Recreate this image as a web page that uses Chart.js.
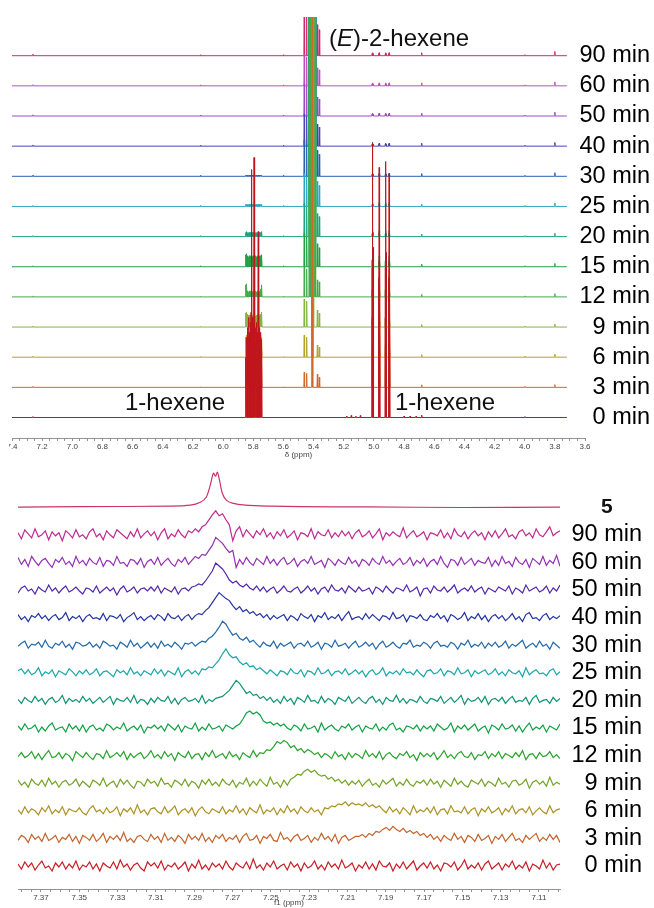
<!DOCTYPE html>
<html><head><meta charset="utf-8">
<script src="https://cdn.jsdelivr.net/npm/chart.js@4.4.1/dist/chart.umd.min.js"></script>
<style>
html,body{margin:0;padding:0;background:#fff;width:654px;height:908px;overflow:hidden;position:relative;font-family:'Liberation Sans',Arial,sans-serif;}
canvas{position:absolute;left:0;}
#top{top:0;}
#bot{top:448px;}
.ann{position:absolute;font-size:24px;line-height:24px;color:#111;white-space:nowrap;}
.mask{position:absolute;left:0;top:440px;width:9px;height:12px;background:#fff;}
</style></head><body>
<canvas id="top" width="654" height="460"></canvas>
<canvas id="bot" width="654" height="460"></canvas>
<div class="mask"></div>
<div class="ann" style="left:329px;top:26px">(<i>E</i>)-2-hexene</div>
<div class="ann" style="left:125px;top:390px">1-hexene</div>
<div class="ann" style="left:395px;top:390px">1-hexene</div>
<div class="ann" style="left:601px;top:495px;font-weight:bold;font-size:21px;line-height:21px">5</div>
<script>
// ---------------- DATA: top panel (1H NMR, 7.4 - 3.6 ppm) ----------------
const TOP_TIMES = ['0 min','3 min','6 min','9 min','12 min','15 min','20 min','25 min','30 min','40 min','50 min','60 min','90 min'];
const TOP_TICK_LABELS = ['7.4','7.2','7.0','6.8','6.6','6.4','6.2','6.0','5.8','5.6','5.4','5.2','5.0','4.8','4.6','4.4','4.2','4.0','3.8','3.6'];
const TOP_START = 7.4, TOP_END = 3.72;
const OFF_SCALE = 1500;
// 1-hexene CH= multiplet (~5.8 ppm)
const HEX1_A_PPM = [5.850,5.844,5.838,5.832,5.826,5.820,5.815,5.811,5.806,5.800,5.795,5.789,5.783,5.777,5.772,5.767,5.761,5.755,5.749,5.744];
const HEX1_A_H = [
 [60,80,90,100,85,95,105,248,100,95,260,100,90,95,85,186,90,85,80,78],
 [30,40,45,50,42,48,52,124,50,48,130,50,45,48,42,93,45,42,40,39],
 [20,22,17,15,16,14,15,17,16,15,18,16,15,14,16,17,15,16,18,20],
 [14,15,13,12,12,11,12,13,12,11,13,12,11,12,12,13,11,12,13,15],
 [12,13,6,5,6,5,6,6,5,6,6,5,6,5,6,6,5,6,8,12],
 [12,13,11,10,11,10,11,11,10,11,11,10,11,10,11,11,10,11,11,12],
 [4,5,4,4,4,4,4,4,4,4,4,4,4,4,4,4,4,4,4,5],
 [2,2,2,2,2,2,2,2,2,2,2,2,2,2,2,2,2,2,2,2],
 [1,1,1,1,1,1,1,1,1,1,1,1,1,1,1,1,1,1,1,1],
 [],[],[],[]
];
// 1-hexene =CH2 lines (~4.9-5.0 ppm)
const HEX1_B_PPM = [5.012,5.009,5.005,4.968,4.965,4.961,4.924,4.921,4.917,4.902,4.899,4.895];
const HEX1_B_H = [
 [150,274,170,140,250,160,150,256,165,140,244,150],
 [70,130,80,65,120,75,70,125,80,65,118,70],
 [12,22,13,11,20,12,12,20,12,11,19,11],
 [9,16,10,8,15,9,9,15,9,8,14,8],
 [7,13,8,7,12,7,7,12,7,7,12,7],
 [7,12,7,6,11,6,6,11,6,6,11,6],
 [3,6,4,3,6,3,3,6,3,3,6,3],
 [2,4,2,2,4,2,2,4,2,2,4,2],
 [2,3,2,2,3,2,2,3,2,2,3,2],
 [2,4,2,2,3,2,2,3,2,2,3,2],
 [2,3,2,2,3,2,2,3,2,2,3,2],
 [2,3,2,2,3,2,2,3,2,2,3,2],
 [2,3,2,2,3,2,2,3,2,2,3,2]
];
// (E)-2-hexene CH=CH: outer lines and off-scale core lines (~5.4 ppm)
const E_SIDE_PPM = [5.462,5.446,5.375,5.362];
const E_SIDE_H = [
 [0,0,0,0],[15,14,13,10],[22,20,12,10],[28,26,17,14],[30,28,17,15],[33,30,23,19],
 [33,30,23,20],[33,30,25,21],[36,32,26,22],[32,30,22,19],[32,30,19,17],[31,29,18,16],[45,42,31,26]
];
const E_CORE_FULL = [5.428,5.4245,5.421,5.4175,5.414,5.4105,5.407,5.4035,5.400,5.3965,5.393,5.389];
const E_CORE_PPM = [
 [],
 [5.410,5.406],
 [5.411,5.408,5.405],
 [5.414,5.410,5.406,5.402],
 E_CORE_FULL,E_CORE_FULL,E_CORE_FULL,E_CORE_FULL,E_CORE_FULL,E_CORE_FULL,E_CORE_FULL,E_CORE_FULL,E_CORE_FULL
];
// small signals
const SMALL_PPM = [7.261,6.150,5.600,4.683,3.998,3.800];
const SMALL_H = [
 [1,0,0,2.5,1,0],[1,0.5,0.5,2.5,1,2.7],[1,0.5,0.5,2.5,1,3],[1,0.5,0.5,2.5,1,3],
 [1,0.5,0.5,2.5,1,3.2],[1,1,1,2.5,1,3.3],[1,1,1,2.5,1,3.4],[1,1,1,2.5,1,3.5],
 [1.2,1,1,2.8,1,3.6],[1.2,1,1,3,1,3.7],[1.2,1,1,3,1,3.8],[1.2,1,1,3,1,3.9],[1.5,1,1,3,1,4.2]
];
const IMP0_PPM = [5.18,5.15,5.12,5.09,4.80,4.76,4.72];
const IMP0_H = [1.5,2,1.5,2,1.5,1.5,1.5];

// ---------------- DATA: bottom panel (7.38 - 7.10 ppm) ----------------
const BOT_TIMES = ['0 min','3 min','6 min','9 min','12 min','15 min','20 min','25 min','30 min','40 min','50 min','60 min','90 min'];
const BOT_TICK_LABELS = ['7.37','7.35','7.33','7.31','7.29','7.27','7.25','7.23','7.21','7.19','7.17','7.15','7.13','7.11'];
const BOT_START = 7.382, BOT_END = 7.099;
const V_0 = [2,-3,4,-1,3,-4,1,5,-2,0,-5,3,-1,4,-3,2,-2,5,-4,1,
 -1,4,-3,2,-5,3,0,-2,4,-3,6,-1,2,-4,1,3,-2,-5,4,0,
 3,-2,5,-4,1,-1,3,-3,0,4,-5,2,-2,6,-3,1,-4,3,-1,2,
 -3,5,-1,-4,3,0,-2,4,-3,7,-2,1,-4,3,-1,5,-3,0,2,-4,
 4,-1,2,-5,3,-2,0,5,-3,1,-4,4,-1,2,-3,6,-2,0,3,-5,
 1,-2,4,-3,2,-4,5,0,-1,3,-5,2,-2,4,-3,1,5,-4,0,3,
 -2,4,-3,1,-5,3,2,-1,4,-4,0,6,-3,1,-2,3,-4,2,5,-3,
 0,3,-4,2,-1,5,-3,1,-2,4,-5,2,0,-3,6,-2,3,-4,1,2];
const V_3 = [-2,3,1,-4,4,-1,2,-3,5,-2,0,3,-4,1,-1,4,-3,2,-5,3,
 1,-2,4,-3,0,5,-4,2,-1,3,-2,6,-3,0,-4,2,3,-1,-3,4,
 -1,2,-4,5,-2,1,-3,3,0,-5,4,-1,2,-2,5,-3,1,-4,3,0,
 4,-3,1,-1,3,-4,2,5,-2,-1,3,-5,2,0,4,-2,-3,6,-1,1,
 -3,2,4,-2,0,3,-4,1,-2,5,-1,2,-3,4,-5,1,3,-2,0,2,
 2,4,1,5,3,7,6,9,11,8,12,9,7,10,6,8,5,7,3,5,
 1,4,-1,2,-3,3,0,-2,5,-1,2,-4,3,1,-3,4,-2,0,3,-5,
 2,-1,4,-3,1,5,-2,0,-4,3,-1,2,5,-3,1,-2,4,-1,3,-4];
const V_6 = [1,-3,4,-2,2,0,-4,3,-1,5,-3,1,-2,4,-4,2,0,-1,3,-2,
 -4,2,5,-1,1,-3,3,-2,0,4,-5,2,-1,3,-3,6,-2,1,-4,2,
 3,-1,-3,4,-2,1,5,-4,0,2,-2,3,-5,1,4,-1,-3,2,0,-2,
 4,-3,1,-1,5,-2,2,-4,3,0,-2,6,-3,1,-1,3,-4,2,-2,5,
 -1,2,-3,4,0,-2,3,-1,1,-4,3,2,5,4,7,6,9,5,8,6,
 7,5,8,4,6,3,5,1,-2,4,-1,2,-3,3,0,-4,5,-2,1,-1,
 3,-2,4,-4,1,2,-3,5,-1,0,-2,4,-3,1,3,-5,2,-1,4,-2,
 0,3,-4,2,-1,5,-3,1,2,-2,4,-4,0,3,-1,-3,5,-2,1,2];
const V_9 = [3,-2,1,-4,4,0,-2,3,-3,5,-1,2,-4,1,3,-2,0,4,-3,2,
 -1,-4,3,1,-2,5,-3,0,2,-4,4,-1,3,-2,-5,2,1,-3,4,0,
 2,-3,5,-1,0,-4,3,1,-2,4,-3,2,0,-5,3,-1,4,-2,1,-3,
 4,0,-2,3,-4,1,-1,5,-3,2,-2,4,0,-3,6,-1,1,-4,3,-2,
 4,6,9,8,12,14,11,13,9,7,8,4,6,2,4,0,3,-2,2,-1,
 3,-3,1,4,-2,0,-4,3,-1,2,5,-3,1,-2,4,-1,-3,2,0,3,
 -2,4,-1,2,-4,3,0,-3,5,-1,2,-2,-4,3,1,-1,4,-3,2,0,
 -3,5,-1,1,-4,2,3,-2,0,4,-5,1,3,-1,2,-3,6,-2,1,-1];
const V_12 = [-1,3,-2,0,4,-3,2,-4,1,5,-2,-1,3,-3,2,0,-5,4,1,-2,
 3,-1,-4,2,1,-3,5,-2,0,3,-1,4,-4,2,-2,1,3,-3,0,5,
 -2,1,-3,4,-1,2,-5,3,0,-2,4,-3,1,2,-4,3,-1,5,-2,0,
 2,-3,4,-1,1,-4,3,0,-2,5,-1,3,2,6,5,9,14,12,15,13,
 8,10,5,7,3,6,4,1,3,-2,2,0,-3,4,-1,1,-4,3,-2,2,
 0,-3,5,-1,2,-2,4,-4,1,3,-1,-3,2,0,4,-2,1,-5,3,-1,
 2,-1,3,-4,0,5,-2,1,-3,2,4,-1,-2,3,-4,1,0,4,-3,2,
 -1,4,-3,2,0,-2,3,-1,5,-4,1,2,-3,3,-1,0,4,-2,1,-3];
const V_15 = [2,-2,4,-1,0,3,-4,1,-3,2,5,-2,0,1,-4,4,-1,2,-3,3,
 -4,1,3,-2,0,-3,4,2,-2,1,-1,5,-3,0,2,-2,3,-5,1,0,
 3,-1,2,-3,4,1,-2,3,-4,2,0,-1,5,-3,1,-2,4,-1,0,2,
 -3,3,1,-1,2,4,9,15,17,14,16,13,7,5,6,3,5,2,4,0,
 -2,3,1,-3,4,-1,0,2,-4,5,-2,1,3,-1,-3,2,0,4,-2,1,
 3,-4,2,0,-1,4,-3,1,-2,3,5,-2,0,-4,2,1,-1,3,-3,2,
 -1,2,-3,4,1,-2,0,5,-4,2,-1,3,-2,1,4,-3,0,2,-5,3,
 1,-2,4,-1,0,3,-3,2,-4,1,5,-2,1,-1,3,-4,2,0,-2,4];
const V_20 = [1,-3,3,0,-2,4,-1,2,-4,1,3,-2,0,5,-3,2,-1,1,-2,4,
 -1,2,-3,0,3,-2,1,4,-4,2,0,-1,3,-2,5,-3,1,0,-4,2,
 -2,3,0,-1,4,-3,2,-4,1,3,-1,0,2,-2,5,-3,1,-1,2,3,
 4,7,10,15,20,17,12,7,9,5,6,2,4,0,3,-2,1,-3,4,-1,
 2,-4,3,1,-2,5,-1,0,-3,4,-2,2,0,-4,3,1,-1,4,-3,0,
 3,-1,-3,2,4,-2,1,-4,3,0,-1,5,-2,2,-3,1,0,-2,4,-1,
 -3,2,1,-1,4,-3,0,3,-2,1,5,-4,2,-1,0,3,-2,4,-4,1,
 2,-1,3,-3,1,4,-2,0,-1,3,-4,2,5,-2,0,1,-3,3,-1,2];
const V_25 = [2,4,-1,3,-2,0,5,-3,1,-1,3,-4,2,0,-2,4,1,-3,2,-1,
 3,-2,0,4,-3,1,2,-1,-4,3,0,2,-2,5,-1,1,-3,2,0,-2,
 4,-1,3,-3,2,0,-2,5,-4,1,3,-1,2,-2,4,3,6,5,9,13,
 19,24,18,15,16,11,8,10,6,7,3,5,2,-1,3,0,-3,2,1,-2,
 4,0,-1,3,-4,2,1,-2,5,-1,0,3,-3,1,2,-1,4,-2,0,3,
 -1,2,-4,1,3,-2,0,5,-3,1,-1,2,-2,4,0,1,-2,3,-1,-4,
 2,3,-1,0,4,-3,2,1,-2,5,-1,0,3,-4,2,-1,1,3,-2,0,
 4,-2,1,-3,3,0,-1,2,-4,5,-2,1,3,-1,0,-3,2,4,-2,1];
const V_30 = [-1,2,4,-3,1,0,3,-2,5,-1,-3,2,0,4,-2,1,-4,3,2,-1,
 0,3,-2,1,-3,4,2,-1,0,-4,3,1,-2,5,-1,2,-3,0,3,-2,
 2,-3,4,-1,1,-2,3,0,-4,2,1,3,-1,2,4,3,7,9,13,18,
 24,21,15,10,12,7,5,8,3,5,1,-2,3,0,-1,4,-3,2,-1,1,
 3,-3,1,2,-1,4,-2,0,3,-4,2,1,-2,5,-1,0,2,-3,1,4,
 -2,0,3,-1,2,-4,1,4,-2,0,3,-1,-3,2,1,5,-2,0,-1,3,
 1,-3,2,4,-1,0,-2,3,1,-4,2,0,5,-2,1,-1,3,-3,2,-1,
 3,-2,0,4,-3,1,-1,2,5,-3,0,2,-2,4,-1,1,-4,3,0,-3];
const V_40 = [3,-2,1,-4,2,0,4,-1,2,-3,1,3,-2,0,5,-3,1,-1,2,-4,
 1,3,-1,0,-2,4,-3,2,1,-1,3,-4,0,2,5,-2,1,-3,0,2,
 -2,3,1,-3,4,0,-1,2,-3,1,3,-2,2,4,3,7,10,15,20,25,
 22,19,17,12,8,11,6,8,4,6,2,4,0,3,-2,2,-1,1,3,-3,
 2,0,-3,4,1,-1,3,-4,2,0,5,-2,1,-1,3,-3,2,6,-2,0,
 1,-2,4,-1,3,0,-3,2,1,-2,5,-1,0,3,-4,2,1,-1,3,-2,
 -3,2,0,4,-1,2,-4,3,1,-2,0,5,-3,1,-1,4,-2,2,-4,1,
 3,-1,2,-3,0,4,-2,1,-4,3,5,-1,0,-3,2,4,-2,1,-1,2];
const V_50 = [-3,2,4,-1,1,-4,3,0,-2,5,-1,2,-3,1,4,-2,0,3,-1,-4,
 2,1,-2,4,-3,0,3,-1,2,-5,1,4,-2,0,3,-3,1,2,-1,3,
 -1,4,-3,2,0,-2,3,-4,1,2,-1,3,4,6,5,9,14,19,27,24,
 21,16,10,7,9,5,3,6,2,0,4,-1,3,-2,1,3,-3,0,4,-1,
 -2,1,3,-3,0,4,-1,2,-4,1,3,-2,5,0,-1,2,-3,4,1,-2,
 3,-1,0,2,-4,3,1,-2,4,0,-3,2,1,-1,5,-2,0,3,-6,1,
 2,-3,4,0,-1,3,-2,1,5,-3,0,2,-1,4,-2,1,3,-4,2,0,
 -2,3,1,-1,4,-4,2,0,-3,5,-1,1,3,-2,0,4,-3,2,-1,5];
const V_60 = [5,-2,3,-4,6,1,-3,2,4,-1,-5,3,0,5,-2,1,-4,6,-1,2,
 -3,4,0,-2,5,-4,2,1,-3,6,-1,0,-4,3,2,-2,4,-5,1,3,
 -2,5,-3,1,4,-1,-4,3,0,5,-2,2,6,4,8,7,12,17,25,22,
 19,14,10,12,-5,3,-2,5,0,-3,4,1,-2,6,-1,3,-3,2,5,-2,
 0,4,-4,1,3,-1,6,-2,0,2,-5,4,1,-3,3,0,-2,5,-1,2,
 -4,3,1,-3,4,0,-2,6,-1,2,-3,1,4,-2,0,5,-3,2,-1,4,
 -4,1,3,-2,6,-1,-5,3,2,-3,5,-2,1,4,-3,2,0,-1,5,-4,
 2,-3,6,-1,1,-4,5,0,-2,3,-5,4,1,-2,6,-3,2,-1,7,-4];
const V_90 = [2,-4,5,1,-3,6,-2,0,4,-5,3,-1,2,-6,4,1,-3,5,-2,0,
 -4,3,6,-2,1,-5,4,0,-3,5,2,-1,-4,3,-2,6,-3,1,4,-1,
 3,-5,2,6,-4,1,-2,5,0,-3,4,2,6,3,8,10,15,20,24,19,
 21,15,10,-6,4,8,-2,5,1,-3,4,0,6,-2,2,-4,3,-1,5,-3,
 0,4,-5,2,1,-2,6,-4,3,0,-1,5,-3,2,-2,4,-1,3,-4,2,
 5,-2,0,4,-3,1,6,-5,2,-1,3,0,-2,7,-3,1,4,-2,0,3,
 -5,2,1,-1,5,-3,2,-4,6,0,-2,3,-4,1,4,-1,2,-5,3,-2,
 4,-3,1,6,-2,0,-4,3,5,-1,2,-3,6,0,-2,3,8,-1,2,4];
const BOT_VALUES = [V_0,V_3,V_6,V_9,V_12,V_15,V_20,V_25,V_30,V_40,V_50,V_60,V_90];
// reference compound 5 (smooth)
const REF5_PPM = [7.382,7.350,7.3025,7.292,7.2868,7.2837,7.2816,7.2800,7.2789,7.2779,7.2769,7.2753,7.2732,7.2701,7.2633,7.2502,7.2345,7.200,7.150,7.099];
const REF5_H   = [0,0.5,1,2,5,10,22,34,31,35,28,14,7,4,2,1,0.5,0.3,-0.3,0];

// ---------------- styles / layout ----------------
const TOP_COLORS = ['#c0161e','#cf682c','#b3a22c','#86b342','#44ab4c','#22a046','#1fa284','#2ea7c0','#2c5fb2','#4a44b6','#9a4cc4','#c44cbc','#cc2c6a'];
const BOT_COLORS = ['#c81e26','#c4622a','#ac9224','#74a424','#2aa22c','#12a042','#12946c','#1aa8a8','#226aaa','#2434a2','#5228aa','#9230b2','#c02a92','#cc3464'];
const SP_TOP = 30.15, SP_BOT = 27.6, STICK_W = 0.0025;
const AX_FAMILY = "'Liberation Sans Narrow','Liberation Sans',Arial,sans-serif";
const LBL_FAMILY = "'Liberation Sans',Arial,sans-serif";
const LBL_SIZE = 23.5;

function buildTop(k){
  const pk = [];
  const add = (ps, hs) => ps.forEach((p, j) => { if (hs[j] > 0) pk.push([p, hs[j]]); });
  add(HEX1_A_PPM, HEX1_A_H[k]);
  add(HEX1_B_PPM, HEX1_B_H[k]);
  add(E_SIDE_PPM, E_SIDE_H[k]);
  add(E_CORE_PPM[k], E_CORE_PPM[k].map(() => OFF_SCALE));
  add(SMALL_PPM, SMALL_H[k]);
  if (k === 0) add(IMP0_PPM, IMP0_H);
  pk.sort((a, b) => b[0] - a[0]);
  const base = k * SP_TOP;
  const pts = [{x: TOP_START, y: base}];
  pk.forEach(([p, h]) => { pts.push({x: p + STICK_W, y: base}, {x: p, y: base + h}, {x: p - STICK_W, y: base}); });
  pts.push({x: TOP_END, y: base});
  return pts;
}
function buildBot(k){
  const vals = BOT_VALUES[k], n = vals.length, st = (BOT_START - BOT_END) / (n - 1);
  return vals.map((v, j) => ({x: BOT_START - j * st, y: k * SP_BOT + v}));
}
function buildRef(){
  const base = 13 * SP_BOT;
  return REF5_PPM.map((p, j) => ({x: p, y: base + REF5_H[j]}));
}
function minorTicks(lo, hi, step){
  const out = []; const n = Math.round((hi - lo) / step);
  for (let i = 0; i <= n; i++) out.push(+(lo + i * step).toFixed(4));
  return out;
}
function axisLabel(v, labels){
  const hit = labels.find(s => Math.abs(parseFloat(s) - v) < 1e-6);
  return hit || '';
}

function xAxis(min, max, ticksArr, labels, title, h){
  return {
    type: 'linear', reverse: true, min: min, max: max, position: 'bottom',
    afterBuildTicks: s => { s.ticks = ticksArr.map(v => ({value: v})); },
    afterFit: s => { s.height = h; s.paddingLeft = 0; s.paddingRight = 0; },
    grid: {drawOnChartArea: false, drawTicks: true, tickLength: 3, color: '#777', tickColor: '#777', tickWidth: 0.8},
    border: {display: true, color: '#777', width: 0.8},
    ticks: {autoSkip: false, maxRotation: 0, minRotation: 0, padding: 1, color: '#444',
            font: {size: 8, family: AX_FAMILY}, callback: v => axisLabel(v, labels)},
    title: {display: true, text: title, color: '#444', font: {size: 8, family: AX_FAMILY}, padding: 0}
  };
}
// right axis: labels right-aligned at (axis.left + pad) via mirror mode (no clipping)
function yAxis(min, max, times, sp, width, pad){
  return {
    type: 'linear', position: 'right', min: min, max: max,
    afterBuildTicks: s => { s.ticks = times.map((t, k) => ({value: k * sp})); },
    afterFit: s => { s.width = width; s.paddingTop = 0; s.paddingBottom = 0; },
    grid: {display: false, drawTicks: false}, border: {display: false},
    ticks: {autoSkip: false, mirror: true, padding: pad, color: '#000',
            font: {size: LBL_SIZE, family: LBL_FAMILY}, callback: (v, i) => times[i]}
  };
}
const common = {responsive: false, animation: false, events: [],
  plugins: {legend: {display: false}, tooltip: {enabled: false}}};

new Chart(document.getElementById('top'), {
  type: 'line',
  data: {datasets: TOP_TIMES.map((t, k) => ({label: t, data: buildTop(k), borderColor: TOP_COLORS[k],
    borderWidth: 1, pointRadius: 0, tension: 0, fill: false}))},
  options: Object.assign({}, common, {
    layout: {padding: {top: 17, left: 12, right: 0, bottom: 0}},
    scales: {
      x: xAxis(3.6, 7.4, minorTicks(3.6, 7.4, 0.05), TOP_TICK_LABELS, 'δ (ppm)', 22),
      y: yAxis(-20.5, 400.5, TOP_TIMES, SP_TOP, 69, 65)
    }
  })
});

const botSets = BOT_TIMES.map((t, k) => ({label: t, data: buildBot(k), borderColor: BOT_COLORS[k],
  borderWidth: 1.2, pointRadius: 0, tension: 0, fill: false}));
botSets.push({label: '5', data: buildRef(), borderColor: BOT_COLORS[13], borderWidth: 1.2, pointRadius: 0, tension: 0.3, fill: false});
new Chart(document.getElementById('bot'), {
  type: 'line',
  data: {datasets: botSets},
  options: Object.assign({}, common, {
    layout: {padding: {top: 14, left: 18, right: 0, bottom: 0}},
    scales: {
      x: xAxis(BOT_END, BOT_START, minorTicks(7.100, 7.380, 0.005), BOT_TICK_LABELS, 'f1 (ppm)', 19),
      y: yAxis(-23, 404, BOT_TIMES, SP_BOT, 94, 82)
    }
  })
});
</script>
</body></html>
